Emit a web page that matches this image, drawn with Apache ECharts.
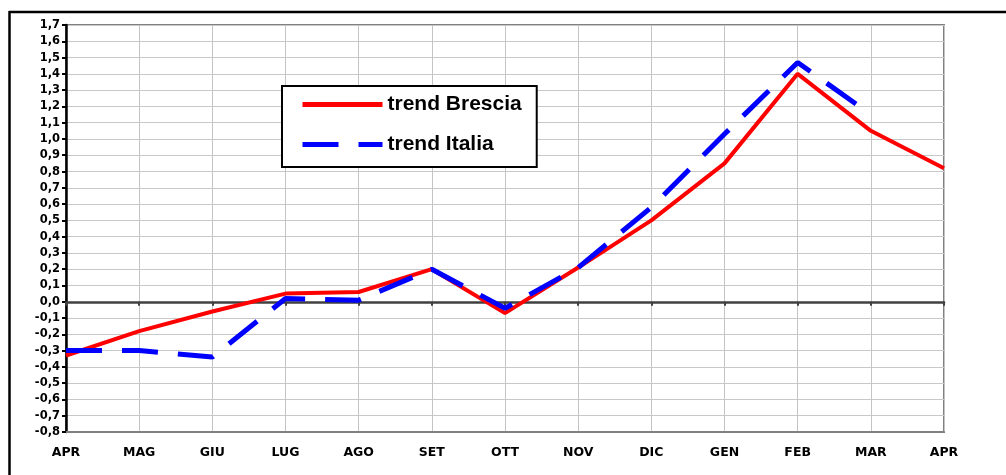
<!DOCTYPE html>
<html>
<head>
<meta charset="UTF-8">
<script src="https://cdn.jsdelivr.net/npm/echarts@6/dist/echarts.min.js"></script>
<style>
  html, body { margin: 0; padding: 0; background: #fff; }
  #main { width: 1006px; height: 475px; }
</style>
<title>trend</title>
</head>
<body>
<div id="main"></div>
<script type="text/javascript">
var months = ['APR', 'MAG', 'GIU', 'LUG', 'AGO', 'SET', 'OTT', 'NOV', 'DIC', 'GEN', 'FEB', 'MAR', 'APR'];
var brescia = [-0.33, -0.18, -0.06, 0.05, 0.06, 0.20, -0.07, 0.21, 0.50, 0.85, 1.40, 1.05, 0.82];
var italia = [-0.30, -0.30, -0.34, 0.02, 0.01, 0.20, -0.04, 0.21, 0.58, 1.03, 1.47, 1.15, null];

var myChart = echarts.init(document.getElementById('main'));

function fmt(v) {
    var s = (Math.round(v * 10) / 10).toFixed(1);
    if (s === '-0.0') s = '0.0';
    return s.replace('.', ',');
}

var option = {
    animation: false,
    backgroundColor: '#fff',
    grid: {
        left: 66, right: 62, top: 25, bottom: 43,
        show: true, borderColor: '#808080', borderWidth: 2, backgroundColor: '#fff'
    },
    legend: {
        orient: 'vertical',
        left: 282, top: 86,
        padding: [8, 15, 12, 18],
        itemWidth: 80, itemHeight: 14, itemGap: 19,
        backgroundColor: '#fff',
        borderColor: '#000', borderWidth: 2,
        textStyle: { fontFamily: 'Liberation Sans, Arial', fontWeight: 'bold', fontSize: 21, color: '#000' },
        data: [
            { name: 'trend Brescia', lineStyle: { width: 5 }, itemStyle: { opacity: 0 } },
            { name: 'trend Italia', lineStyle: { width: 5 }, itemStyle: { opacity: 0 } }
        ]
    },
    xAxis: [{
        type: 'category',
        data: months,
        boundaryGap: false,
        axisLine: { onZero: false, lineStyle: { color: '#808080', width: 2 } },
        axisTick: { show: false },
        axisLabel: {
            interval: 0, margin: 14, color: '#000',
            fontFamily: 'DejaVu Sans', fontWeight: 'bold', fontSize: 12.5
        },
        splitLine: { show: true, interval: 0, lineStyle: { color: '#c4c4c4', width: 1 } }
    }, {
        type: 'category',
        data: months,
        boundaryGap: false,
        position: 'bottom',
        axisLine: { onZero: true, lineStyle: { color: '#404040', width: 2.5 } },
        axisTick: { show: true, interval: 0, length: 4, lineStyle: { color: '#404040', width: 2 } },
        axisLabel: { show: false },
        splitLine: { show: false }
    }],
    yAxis: {
        type: 'value',
        min: -0.8, max: 1.7, interval: 0.1,
        axisLine: { show: true, lineStyle: { color: '#000', width: 2.5 } },
        axisTick: { show: true, length: 4, lineStyle: { color: '#000', width: 2 } },
        axisLabel: {
            margin: 6, color: '#000',
            fontFamily: 'DejaVu Sans', fontWeight: 'bold', fontSize: 11.5,
            formatter: fmt
        },
        splitLine: { show: true, lineStyle: { color: '#c8c8c8', width: 1 } }
    },
    series: [{
        name: 'trend Brescia',
        type: 'line',
        xAxisIndex: 0,
        data: brescia,
        symbol: 'none',
        z: 3,
        lineStyle: { color: '#ff0000', width: 4 },
        itemStyle: { color: '#ff0000' }
    }, {
        name: 'trend Italia',
        type: 'line',
        xAxisIndex: 0,
        data: italia,
        symbol: 'none',
        z: 4,
        lineStyle: { color: '#0000ff', width: 5, type: [36, 20], cap: 'butt' },
        itemStyle: { color: '#0000ff' }
    }],
    graphic: [{
        type: 'line',
        shape: { x1: 9, y1: 12, x2: 1006, y2: 12 },
        style: { stroke: '#000', lineWidth: 2.5 }
    }, {
        type: 'line',
        shape: { x1: 9.5, y1: 11, x2: 9.5, y2: 475 },
        style: { stroke: '#000', lineWidth: 2.5 }
    }]
};
myChart.setOption(option);
</script>
</body>
</html>
